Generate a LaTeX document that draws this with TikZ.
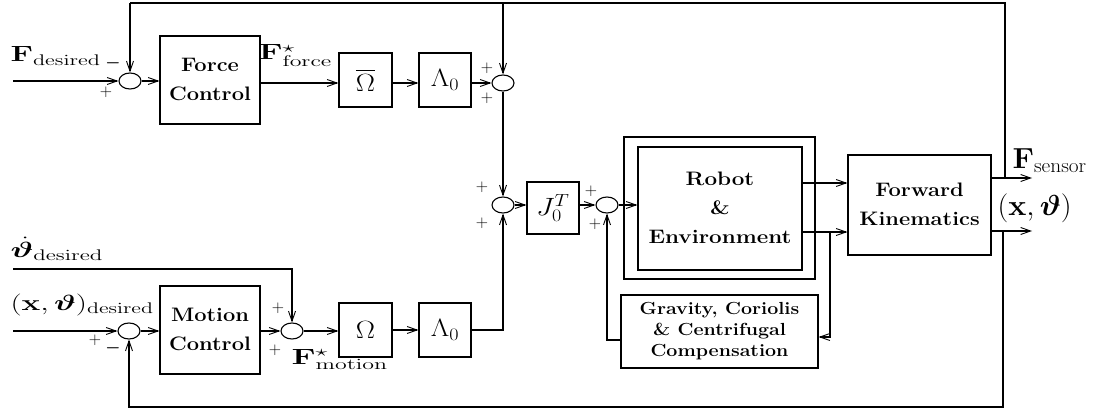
\RequirePackage{fix-cm}
\documentclass[tikz,border=0pt]{standalone}
\usepackage{amsmath,bm}
\usetikzlibrary{arrows.meta,shapes.geometric}
\newcommand{\hs}[2]{\scalebox{#1}[1]{#2}}
\begin{document}
\begin{tikzpicture}[x=1pt,y=-1pt,
  line width=1.1pt,
  arr/.style={-{Straight Barb[length=10pt,width=7pt,line width=0.9pt]}},
  blk/.style={draw,rectangle,inner sep=0pt},
  sj/.style={draw,ellipse,minimum width=22pt,minimum height=16pt,inner sep=0pt},
  btxt/.style={font=\fontsize{19.5}{29}\selectfont\bfseries},
  gtxt/.style={font=\fontsize{17.5}{21}\selectfont\bfseries},
  bmath/.style={font=\fontsize{25}{25}\selectfont},
  lbl/.style={inner sep=0pt,anchor=base west},
  sgn/.style={inner sep=0pt,font=\fontsize{17}{17}\selectfont}
]
\useasboundingbox (0,0) rectangle (1097,409);

% blocks
\node[sj] (sF) at (130,81) {};
\node[blk,minimum width=100pt,minimum height=88pt,btxt] (FC) at (210,80) {\hs{1.12}{\begin{tabular}{@{}c@{}}Force\\Control\end{tabular}}};
\node[blk,minimum width=53pt,minimum height=54pt,bmath] (OB) at (365.5,80) {\hs{1.15}{$\overline{\Omega}$}};
\node[blk,minimum width=52pt,minimum height=54pt,bmath] (L1) at (445,80) {\hs{1.15}{$\Lambda_0$}};
\node[sj] (s2) at (503,83) {};
\node[sj] (s3) at (503,205) {};
\node[blk,minimum width=52pt,minimum height=52pt,bmath] (J) at (553,208) {\hs{1.15}{$J_0^T$}};
\node[sj] (s4) at (607,205) {};
\node[blk,minimum width=191pt,minimum height=142pt] (RO) at (719.5,208) {};
\node[blk,minimum width=164pt,minimum height=123pt,btxt] (RI) at (720,208.5) {\hs{1.15}{\begin{tabular}{@{}c@{}}Robot\\\&\\Environment\end{tabular}}};
\node[blk,minimum width=143pt,minimum height=100pt,btxt] (FK) at (919.5,205) {\hs{1.12}{\begin{tabular}{@{}c@{}}Forward\\Kinematics\end{tabular}}};
\node[blk,minimum width=197pt,minimum height=73pt,gtxt] (GC) at (719.5,331.5) {\hs{1.12}{\begin{tabular}{@{}c@{}}Gravity, Coriolis\\\& Centrifugal\\Compensation\end{tabular}}};
\node[sj] (sM1) at (129,331) {};
\node[blk,minimum width=100pt,minimum height=88pt,btxt] (MC) at (210,330) {\hs{1.12}{\begin{tabular}{@{}c@{}}Motion\\Control\end{tabular}}};
\node[sj] (sM2) at (292,331) {};
\node[blk,minimum width=53pt,minimum height=54pt,bmath] (OM) at (365.5,330) {\hs{1.15}{$\Omega$}};
\node[blk,minimum width=52pt,minimum height=54pt,bmath] (L2) at (445,330) {\hs{1.15}{$\Lambda_0$}};

% helper coordinates
\coordinate (inF) at (13,81);
\coordinate (inTh) at (13,269);
\coordinate (inX) at (13,331);
\coordinate (topY) at (0,3);
\coordinate (botY) at (0,407);
\coordinate (tapF) at (1005,178);
\coordinate (outF) at (1032,178);
\coordinate (tapX) at (1003,231);
\coordinate (outX) at (1032,231);
\coordinate (yA) at (0,183);
\coordinate (yB) at (0,232);
\coordinate (tapG) at (830,232);
\coordinate (gIn) at (0,337);
\coordinate (gOut) at (0,340);
\coordinate (yF) at (0,83);

% connectors
\draw[arr] (inF) -- (sF.west);
\draw[arr] (sF.east) -- (sF.east -| FC.west);
\draw[arr] (FC.east |- yF) -- (OB.west |- yF);
\draw[arr] (OB.east |- yF) -- (L1.west |- yF);
\draw[arr] (L1.east |- yF) -- (s2.west);
\draw (tapF) -- (tapF |- topY) -- (sF |- topY);
\draw[arr] (sF |- topY) -- (sF.north);
\draw[arr] (s2 |- topY) -- (s2.north);
\draw[arr] (s2.south) -- (s3.north);
\draw[arr] (L2.east) -| (s3.south);
\draw[arr] (s3.east) -- (s3.east -| J.west);
\draw[arr] (J.east |- s4) -- (s4.west);
\draw[arr] (s4.east) -- (s4.east -| RI.west);
\draw[arr] (RI.east |- yA) -- (FK.west |- yA);
\draw[arr] (RI.east |- yB) -- (FK.west |- yB);
\draw[arr] (FK.east |- tapF) -- (outF);
\draw[arr] (FK.east |- tapX) -- (outX);
\draw[arr] (tapX) -- (tapX |- botY) -| (sM1.south);
\draw[arr] (tapG) -- (tapG |- gIn) -- (GC.east |- gIn);
\draw[arr] (GC.west |- gOut) -| (s4.south);
\draw[arr] (inX) -- (sM1.west);
\draw[arr] (sM1.east) -- (sM1.east -| MC.west);
\draw[arr] (MC.east |- sM2) -- (sM2.west);
\draw[arr] (inTh) -| (sM2.north);
\draw[arr] (sM2.east) -- (sM2.east -| OM.west);
\draw[arr] (OM.east) -- (L2.west);

% labels
\node[lbl] (lFd) at (10,62) {\hs{1.45}{\fontsize{22}{22}\selectfont$\mathbf{F}_{\mathrm{desired}}$}};
\node[lbl] (lFf) at (258,60) {\hs{1.55}{\fontsize{22}{22}\selectfont$\mathbf{F}^{\star}_{\mathrm{force}}$}};
\node[lbl] (lTd) at (10,257) {\hs{1.5}{\fontsize{22}{22}\selectfont$\dot{\boldsymbol{\vartheta}}_{\mathrm{desired}}$}};
\node[lbl] (lXd) at (10,310) {\hs{1.43}{\fontsize{22}{22}\selectfont$(\mathbf{x},\boldsymbol{\vartheta})_{\mathrm{desired}}$}};
\node[lbl] (lFm) at (291,364) {\hs{1.55}{\fontsize{22}{22}\selectfont$\mathbf{F}^{\star}_{\mathrm{motion}}$}};
\node[lbl] (lFs) at (1012,168) {\hs{1.05}{\fontsize{29}{29}\selectfont$\mathbf{F}_{\mathrm{sensor}}$}};
\node[lbl] (lXo) at (997,215) {\hs{1.05}{\fontsize{29}{29}\selectfont$(\mathbf{x},\boldsymbol{\vartheta})$}};

% signs
\node[sgn] (m1) at (113,63) {$\boldsymbol{-}$};
\node[sgn] (p1) at (106,92) {$+$};
\node[sgn] (p2) at (487,68) {$+$};
\node[sgn] (p3) at (487,98) {$+$};
\node[sgn] (p4) at (482,187) {$+$};
\node[sgn] (p5) at (482,223) {$+$};
\node[sgn] (p6) at (591,191) {$+$};
\node[sgn] (p7) at (595,224) {$+$};
\node[sgn] (p8) at (95,340) {$+$};
\node[sgn] (m2) at (113,348) {$\boldsymbol{-}$};
\node[sgn] (p9) at (278,308) {$+$};
\node[sgn] (p10) at (275,350) {$+$};
\end{tikzpicture}
\end{document}
